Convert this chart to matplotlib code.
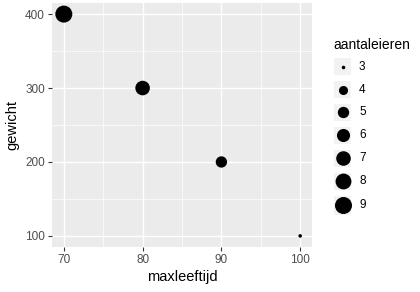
import numpy as np
import matplotlib
matplotlib.use("Agg")
import matplotlib.pyplot as plt
from matplotlib.patches import Rectangle

plt.rcParams['font.family'] = ['Liberation Sans', 'DejaVu Sans']

# data
maxleeftijd = [70, 80, 90, 100]
gewicht = [400, 300, 200, 100]
aantaleieren = [9, 7, 5, 3]
legend_vals = [3, 4, 5, 6, 7, 8, 9]

# ggplot-achtige scale_size (area, range 1..6)
vmin, vmax = 3, 9
def gg_size(v):
    return 1 + 5 * np.sqrt((np.asarray(v, float) - vmin) / (vmax - vmin))

def diam_px(v):
    return 2.686 * gg_size(v) + 0.9

def marker_s(v):
    d_pt = diam_px(v) * 72 / 100
    return d_pt ** 2

fig = plt.figure(figsize=(4.2, 2.92), dpi=100)
ax = fig.add_axes([52 / 420, 1 - 247 / 292, 260 / 420, 244 / 292])
ax.set_facecolor('#EBEBEB')
ax.scatter(maxleeftijd, gewicht, s=marker_s(aantaleieren), color='black', zorder=3, linewidths=0)

ax.set_xlim(68.5, 101.5)
ax.set_ylim(85, 415)
ax.set_xticks([70, 80, 90, 100])
ax.set_yticks([100, 200, 300, 400])
ax.set_xticks([75, 85, 95], minor=True)
ax.set_yticks([150, 250, 350], minor=True)
ax.grid(which='major', color='white', linewidth=1.0, zorder=0)
ax.grid(which='minor', color='white', linewidth=0.5, zorder=0)
ax.set_axisbelow(True)
for sp in ax.spines.values():
    sp.set_visible(False)
ax.tick_params(which='major', length=3, width=0.8, color='#333333', labelcolor='#4D4D4D', labelsize=8.5, pad=2)
ax.tick_params(which='minor', length=0)
ax.set_xlabel('maxleeftijd', fontsize=10.5, labelpad=3)
ax.set_ylabel('gewicht', fontsize=10.5, labelpad=4)

# legenda
lax = fig.add_axes([0, 0, 1, 1])
lax.set_xlim(0, 420)
lax.set_ylim(292, 0)
lax.axis('off')
lax.text(333, 45, 'aantaleieren', fontsize=10, va='center', ha='left')
y = 58
kx = 334
for v in legend_vals:
    d = diam_px(v)
    h = max(17.3, d + 2)
    lax.add_patch(Rectangle((kx, y), 17.3, h, facecolor='#F2F2F2', edgecolor='none'))
    lax.scatter([kx + 8.65], [y + h / 2], s=marker_s(v), color='black', linewidths=0)
    lax.text(kx + 25, y + h / 2, str(v), fontsize=8.5, va='center', ha='left')
    y += h + 5.6

fig.savefig('out.png', dpi=100)
